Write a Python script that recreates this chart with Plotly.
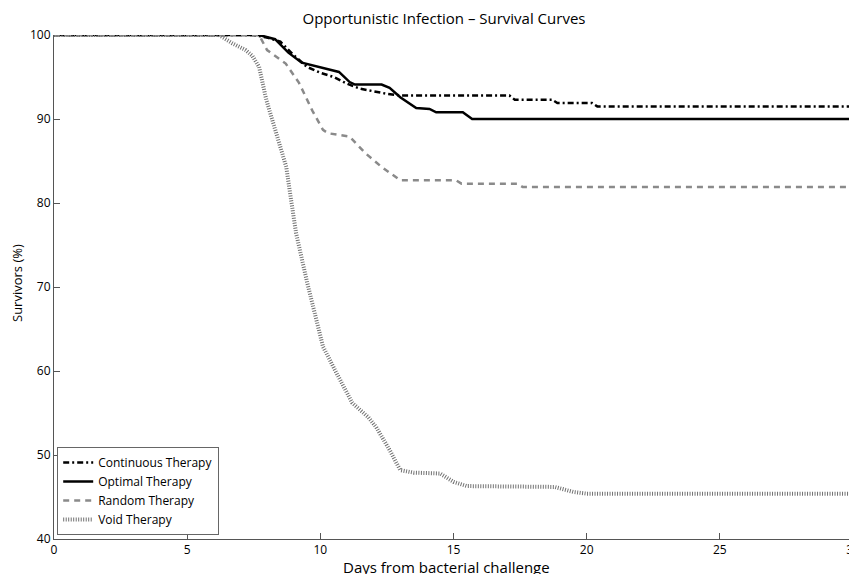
import plotly.graph_objects as go

# Data
cont_x = [0, 7.5, 8.0, 8.5, 9.0, 9.5, 10.0, 10.5, 11.0, 11.5, 12.0, 12.5, 13.0, 17.1, 17.3, 18.7, 18.9, 20.2, 20.4, 30]
cont_y = [100, 100, 99.7, 99.2, 97.6, 96.2, 95.5, 95.0, 94.2, 93.6, 93.3, 93.0, 92.8, 92.8, 92.3, 92.3, 91.9, 91.9, 91.5, 91.5]

opt_x = [0, 7.7, 8.3, 8.8, 9.3, 9.9, 10.5, 10.7, 11.1, 11.3, 12.3, 12.6, 13.0, 13.3, 13.6, 14.1, 14.35, 15.35, 15.7, 30]
opt_y = [100, 100, 99.5, 97.9, 96.7, 96.2, 95.7, 95.6, 94.4, 94.1, 94.1, 93.7, 92.6, 92.0, 91.3, 91.2, 90.8, 90.8, 90.0, 90.0]

rand_x = [0, 7.7, 8.0, 8.7, 9.2, 9.7, 10.1, 10.3, 11.1, 11.7, 12.3, 13.0, 15.1, 15.3, 17.4, 17.6, 30]
rand_y = [100, 100, 98.2, 96.6, 94.3, 91.0, 88.7, 88.3, 87.9, 85.9, 84.3, 82.7, 82.7, 82.3, 82.3, 81.9, 81.9]

void_x = [0, 6.2, 6.7, 7.2, 7.45, 7.7, 7.97, 8.35, 8.72, 8.9, 9.09, 9.5, 9.8, 10.1, 10.6, 11.2, 11.8,
          12.1, 12.6, 13.0, 13.5, 14.5, 15.0, 15.5, 18.8, 19.5, 20, 30]
void_y = [100, 100, 99, 98.2, 97.5, 96.2, 92.3, 88.3, 84.3, 80.4, 76.4, 70.6, 66.5, 62.9, 59.8, 56.2, 54.5,
          53.3, 50.6, 48.2, 47.9, 47.8, 46.8, 46.3, 46.2, 45.6, 45.4, 45.4]

x_ticks = [0, 5, 10, 15, 20, 25, 30]
y_ticks = [40, 50, 60, 70, 80, 90, 100]

title_text = "Opportunistic Infection – Survival Curves"
x_title = "Days from bacterial challenge"
y_title = "Survivors (%)"

FONT = "Open Sans"
W, H = 857, 574
OFF = 8  # page body margin offset
ML, MR, MT, MB = 54 - OFF, 12, 35 - OFF, 43
PW, PH = W - ML - MR, H - MT - MB

fig = go.Figure()
fig.add_trace(go.Scatter(x=cont_x, y=cont_y, mode="lines", name="Continuous Therapy",
                         line=dict(color="black", width=2.5, dash="6px,3px,2px,3px")))
fig.add_trace(go.Scatter(x=opt_x, y=opt_y, mode="lines", name="Optimal Therapy",
                         line=dict(color="black", width=2.5)))
fig.add_trace(go.Scatter(x=rand_x, y=rand_y, mode="lines", name="Random Therapy",
                         line=dict(color="#8a8a8a", width=2.5, dash="6px,5px")))
fig.add_trace(go.Scatter(x=void_x, y=void_y, mode="lines", name="Void Therapy",
                         line=dict(color="#707070", width=4, dash="1px,1.5px")))

fig.update_layout(
    width=W, height=H,
    margin=dict(l=ML, r=MR, t=MT, b=MB),
    paper_bgcolor="white", plot_bgcolor="white",
    font=dict(family=FONT, color="black", size=12),
    title=dict(text=title_text, x=(444 - OFF) / W, xanchor="center",
               y=1 - (19 - OFF) / H, yanchor="middle", font=dict(size=15, family=FONT)),
    showlegend=True,
    legend=dict(x=0.004, y=0.008, xanchor="left", yanchor="bottom",
                bordercolor="#666", borderwidth=1, bgcolor="white",
                font=dict(size=12, family=FONT), tracegroupgap=0,
                itemwidth=30),
    annotations=[
        dict(text=x_title, xref="paper", yref="paper", x=(446 - OFF - ML) / PW,
             y=-(567 - OFF - (H - MB)) / PH, xanchor="center", yanchor="middle",
             showarrow=False, font=dict(size=15, family=FONT)),
        dict(text=y_title, xref="paper", yref="paper", x=-(ML - (17 - OFF)) / PW,
             y=1 - (283 - OFF - MT) / PH, xanchor="center", yanchor="middle",
             textangle=-90, showarrow=False, font=dict(size=13, family=FONT)),
    ],
)
fig.update_xaxes(range=[0, 30], tickvals=x_ticks, ticks="inside", ticklen=6, tickcolor="#555",
                 showline=True, linecolor="#555", linewidth=1, showgrid=False, zeroline=False,
                 automargin=False, ticklabeloverflow="allow", tickfont=dict(size=12))
fig.update_yaxes(range=[40, 100], tickvals=y_ticks, ticks="inside", ticklen=6, tickcolor="#555",
                 showline=True, linecolor="#555", linewidth=1, showgrid=False, zeroline=False,
                 automargin=False, ticklabeloverflow="allow", tickfont=dict(size=12))

fig.write_html("out.html")
